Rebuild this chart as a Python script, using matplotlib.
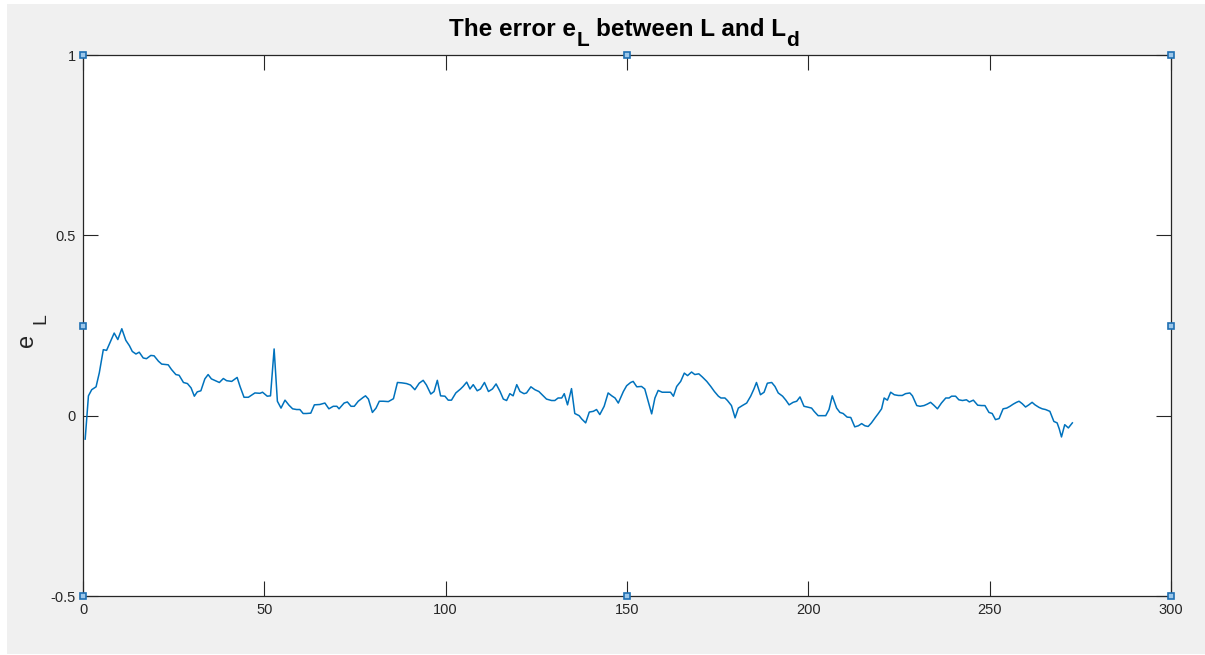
import matplotlib
matplotlib.use("Agg")
import matplotlib.pyplot as plt
from matplotlib.patches import Rectangle

plt.rcParams["font.family"] = ["Liberation Sans", "DejaVu Sans"]

# error samples e_L over the run
step = [0.6, 1.5, 2.4, 3.6, 4.5, 5.6, 6.5, 7.6, 8.6, 9.6, 10.7, 11.8, 12.8, 13.6, 14.6, 15.5, 16.6, 17.5, 18.7, 19.6,
        20.8, 21.7, 23.5, 24.4, 25.6, 26.5, 27.7, 28.8, 29.8, 30.7, 31.5, 32.5, 33.6, 34.5, 35.4, 36.3, 37.6, 38.7, 39.6, 41.0,
        42.5, 43.3, 44.4, 45.6, 47.4, 48.8, 49.5, 50.8, 51.7, 52.7, 53.6, 54.6, 55.7, 56.8, 57.8, 58.9, 59.8, 60.7, 61.6, 62.8,
        63.8, 65.3, 66.7, 67.8, 69.0, 70.0, 70.6, 72.0, 72.9, 73.9, 74.8, 75.9, 77.3, 77.9, 78.7, 79.8, 80.8, 81.7, 82.8, 84.2,
        85.6, 86.7, 87.9, 89.2, 90.3, 91.5, 92.7, 93.8, 94.7, 95.9, 96.8, 97.7, 98.6, 99.8, 100.7, 101.6, 102.8, 104.1, 104.8, 105.8,
        106.7, 107.6, 108.7, 109.6, 110.7, 111.8, 112.9, 113.9, 115.0, 115.9, 116.8, 117.7, 118.6, 119.6, 120.5, 121.6, 122.3, 123.5, 124.6, 125.7,
        126.9, 127.8, 129.2, 130.1, 131.0, 132.0, 132.7, 133.6, 134.7, 135.6, 136.8, 137.5, 138.6, 139.6, 140.7, 141.6, 142.5, 143.7, 144.8, 145.8,
        146.7, 147.6, 149.0, 149.9, 151.0, 151.7, 152.7, 154.0, 154.9, 156.8, 157.7, 158.6, 159.7, 160.9, 162.0, 162.8, 163.7, 164.8, 165.8, 166.7,
        167.8, 168.7, 169.8, 170.8, 172.0, 173.1, 174.1, 175.2, 175.9, 177.0, 177.7, 178.8, 179.8, 180.7, 181.8, 183.0, 184.1, 185.0, 185.7, 186.8,
        187.8, 188.7, 189.9, 190.8, 191.7, 192.9, 193.8, 194.7, 195.8, 196.8, 197.7, 198.8, 199.7, 200.9, 201.6, 202.7, 203.7, 204.8, 205.7, 206.6,
        207.8, 208.7, 209.6, 210.7, 211.7, 212.8, 213.8, 214.7, 215.6, 216.5, 217.4, 218.4, 219.3, 220.2, 220.9, 221.8, 222.7, 223.7, 224.8, 225.9,
        226.8, 228.0, 228.7, 229.9, 230.8, 231.9, 232.8, 233.7, 234.6, 235.6, 236.7, 237.9, 238.8, 239.5, 240.6, 241.5, 242.5, 243.6, 244.4, 245.5,
        246.7, 247.8, 248.7, 249.8, 250.7, 251.6, 252.6, 253.7, 254.7, 255.6, 256.5, 257.4, 258.1, 259.0, 259.9, 260.8, 261.7, 262.5, 263.6, 264.5,
        265.4, 266.6, 267.7, 268.6, 269.2, 269.8, 270.7, 271.7, 272.8]
e_L = [-0.065, 0.055, 0.072, 0.080, 0.119, 0.183, 0.181, 0.206, 0.229, 0.211, 0.241, 0.209, 0.194, 0.178, 0.171, 0.176, 0.160, 0.158, 0.167, 0.166,
       0.151, 0.143, 0.141, 0.128, 0.114, 0.112, 0.092, 0.089, 0.077, 0.054, 0.066, 0.069, 0.102, 0.114, 0.102, 0.098, 0.092, 0.103, 0.097, 0.095,
       0.106, 0.081, 0.051, 0.051, 0.063, 0.062, 0.065, 0.054, 0.055, 0.185, 0.040, 0.021, 0.043, 0.029, 0.019, 0.017, 0.017, 0.006, 0.006, 0.007,
       0.030, 0.031, 0.035, 0.019, 0.026, 0.026, 0.019, 0.035, 0.038, 0.026, 0.026, 0.040, 0.051, 0.055, 0.046, 0.009, 0.021, 0.040, 0.040, 0.039,
       0.047, 0.092, 0.091, 0.089, 0.085, 0.072, 0.090, 0.098, 0.085, 0.060, 0.067, 0.098, 0.055, 0.054, 0.043, 0.043, 0.063, 0.074, 0.081, 0.093,
       0.074, 0.086, 0.069, 0.074, 0.092, 0.067, 0.074, 0.088, 0.067, 0.046, 0.042, 0.061, 0.055, 0.086, 0.067, 0.061, 0.063, 0.080, 0.072, 0.067,
       0.055, 0.046, 0.042, 0.042, 0.049, 0.049, 0.061, 0.030, 0.075, 0.006, 0.000, -0.009, -0.020, 0.010, 0.012, 0.017, 0.003, 0.026, 0.063, 0.055,
       0.049, 0.035, 0.067, 0.083, 0.092, 0.095, 0.080, 0.081, 0.074, 0.005, 0.049, 0.070, 0.065, 0.065, 0.065, 0.054, 0.081, 0.095, 0.118, 0.111,
       0.121, 0.114, 0.116, 0.107, 0.095, 0.081, 0.067, 0.054, 0.049, 0.049, 0.042, 0.028, -0.006, 0.021, 0.028, 0.035, 0.054, 0.074, 0.092, 0.058,
       0.065, 0.090, 0.092, 0.081, 0.063, 0.054, 0.043, 0.030, 0.037, 0.040, 0.052, 0.026, 0.024, 0.021, 0.012, 0.000, 0.000, 0.000, 0.017, 0.055,
       0.021, 0.009, 0.006, -0.004, -0.005, -0.031, -0.028, -0.022, -0.028, -0.030, -0.020, -0.006, 0.006, 0.019, 0.049, 0.043, 0.065, 0.058, 0.056, 0.056,
       0.061, 0.063, 0.055, 0.028, 0.026, 0.028, 0.032, 0.037, 0.029, 0.019, 0.035, 0.049, 0.049, 0.054, 0.054, 0.044, 0.042, 0.044, 0.038, 0.043,
       0.029, 0.028, 0.028, 0.009, 0.006, -0.011, -0.008, 0.019, 0.021, 0.026, 0.032, 0.037, 0.040, 0.033, 0.024, 0.030, 0.037, 0.030, 0.023, 0.019,
       0.017, 0.012, -0.016, -0.020, -0.037, -0.059, -0.025, -0.034, -0.020]

x_ticks = [0, 50, 100, 150, 200, 250, 300]
x_tick_labels = ["0", "50", "100", "150", "200", "250", "300"]
y_ticks = [-0.5, 0, 0.5, 1]
y_tick_labels = ["-0.5", "0", "0.5", "1"]

# title as (text, is_subscript) pieces, MATLAB style subscripts
title_parts = [("The error e", False), ("L", True), ("between L and L", False), ("d", True)]

W, H = 1205, 655
fig = plt.figure(figsize=(W / 100, H / 100), dpi=100, facecolor="white")
# gray window background, kept behind the axes
fig.patches.append(Rectangle((7 / W, 1 / H), 1 - 7 / W, 1 - 5 / H, transform=fig.transFigure,
                             facecolor="#f0f0f0", edgecolor="none", zorder=-10))

ax = fig.add_axes([83 / W, 1 - 596 / H, (1171 - 83) / W, (596 - 55) / H])
ax.set_zorder(1)
ax.set_facecolor("white")
ax.plot(step, e_L, color="#0072BD", lw=1.1)

ax.set_xlim(0, 300)
ax.set_ylim(-0.5, 1)
ax.set_xticks(x_ticks, x_tick_labels)
ax.set_yticks(y_ticks, y_tick_labels)
axis_gray = "#262626"
for s in ax.spines.values():
    s.set_color(axis_gray)
    s.set_linewidth(0.9)
ax.tick_params(direction="in", length=11, width=0.8, color=axis_gray, labelcolor=axis_gray,
               labelsize=10.5, top=True, right=True, pad=5)


def px(x, y):
    return x / W, 1 - y / H


# title laid out piece by piece with lowered, slightly smaller subscripts
renderer = fig.canvas.get_renderer()
main_size, sub_size = 17.5, 15.0
space_px = 0.278 * main_size * 100 / 72
pieces = []
for i, (txt, is_sub) in enumerate(title_parts):
    t = fig.text(0, 0, txt, fontsize=sub_size if is_sub else main_size, fontweight="bold",
                 color="black", ha="left", va="baseline")
    w = t.get_window_extent(renderer).width
    gap = space_px if (i > 0 and title_parts[i - 1][1] and not is_sub) else 0.0
    pieces.append((t, is_sub, w, gap))
total = sum(w + g for _, _, w, g in pieces)
cx = 624
x0 = cx - total / 2
for t, is_sub, w, gap in pieces:
    x0 += gap
    t.set_position(px(x0, 46 if is_sub else 36))
    x0 += w

# rotated y label e_L
fig.text(*px(27, 340), "e", fontsize=17, color=axis_gray, rotation=90, ha="center", va="center")
fig.text(*px(41, 319), "L", fontsize=14, color=axis_gray, rotation=90, ha="center", va="center")

# selection handles around the axes box
hx = [0, 0.5, 1, 0, 1, 0, 0.5, 1]
hy = [1, 1, 1, 0.5, 0.5, 0, 0, 0]
ax.plot(hx, hy, linestyle="none", marker="s", markersize=5, markerfacecolor="#9cc7ea",
        markeredgecolor="#1f6fb2", markeredgewidth=1.2, transform=ax.transAxes, clip_on=False, zorder=5)

fig.savefig("out.png", dpi=100, facecolor=fig.get_facecolor())
